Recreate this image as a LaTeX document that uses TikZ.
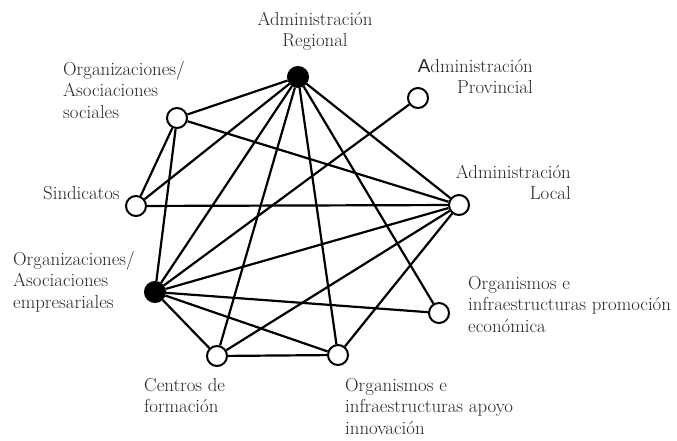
\documentclass[tikz,border=0pt]{standalone}
\usepackage{fontspec}
\newfontfamily\sansA{Liberation Sans}
\begin{document}
\begin{tikzpicture}[x=1pt,y=-1pt,
  actor/.style={circle,draw=black,line width=2pt,fill=white,minimum size=20pt,inner sep=0pt},
  key/.style={actor,fill=black},
  tie/.style={line width=2.2pt,black},
  lbl/.style={font=\fontsize{18.8}{21.5}\selectfont,inner sep=0pt,text=black!85}]
\useasboundingbox (0,0) rectangle (677,441);
% actors
\node[key]   (R)  at (298,77)  {};
\node[actor] (P)  at (418,98)  {};
\node[actor] (L)  at (459,205) {};
\node[actor] (S)  at (177,118) {};
\node[actor] (Si) at (136,206) {};
\node[key]   (E)  at (155,292) {};
\node[actor] (C)  at (217,356) {};
\node[actor] (I)  at (338,355) {};
\node[actor] (Pr) at (439,313) {};
% ties
\draw[tie] (R) -- (S);
\draw[tie] (R) -- (Si);
\draw[tie] (R) -- (E);
\draw[tie] (R) -- (C);
\draw[tie] (R) -- (I);
\draw[tie] (R) -- (Pr);
\draw[tie] (R) -- (L);
\draw[tie] (S) -- (Si);
\draw[tie] (S) -- (E);
\draw[tie] (S) -- (L);
\draw[tie] (Si) -- (L);
\draw[tie] (E) -- (P);
\draw[tie] (E) -- (L);
\draw[tie] (E) -- (Pr);
\draw[tie] (E) -- (I);
\draw[tie] (E) -- (C);
\draw[tie] (C) -- (L);
\draw[tie] (C) -- (I);
\draw[tie] (I) -- (L);
% labels
\node[lbl,anchor=north,align=center] (tR) at (315,12) {Administración\\Regional};
\node[lbl,anchor=north east,align=right] (tP) at (533,59) {{\sansA A}dministración\\Provincial};
\node[lbl,anchor=north east,align=right] (tL) at (571,165) {Administración\\Local};
\node[lbl,anchor=north west,align=left] (tS) at (63,61) {Organizaciones/\\Asociaciones\\sociales};
\node[lbl,anchor=base west] (tSi) at (43,199) {Sindicatos};
\node[lbl,anchor=north west,align=left] (tE) at (13,251) {Organizaciones/\\Asociaciones\\empresariales};
\node[lbl,anchor=north west,align=left] (tC) at (144,378) {Centros de\\formación};
\node[lbl,anchor=north west,align=left] (tI) at (345,378) {Organismos e\\infraestructuras apoyo\\innovación};
\node[lbl,anchor=north west,align=left] (tPr) at (468,276) {Organismos e\\infraestructuras promoción\\económica};
\end{tikzpicture}
\end{document}
